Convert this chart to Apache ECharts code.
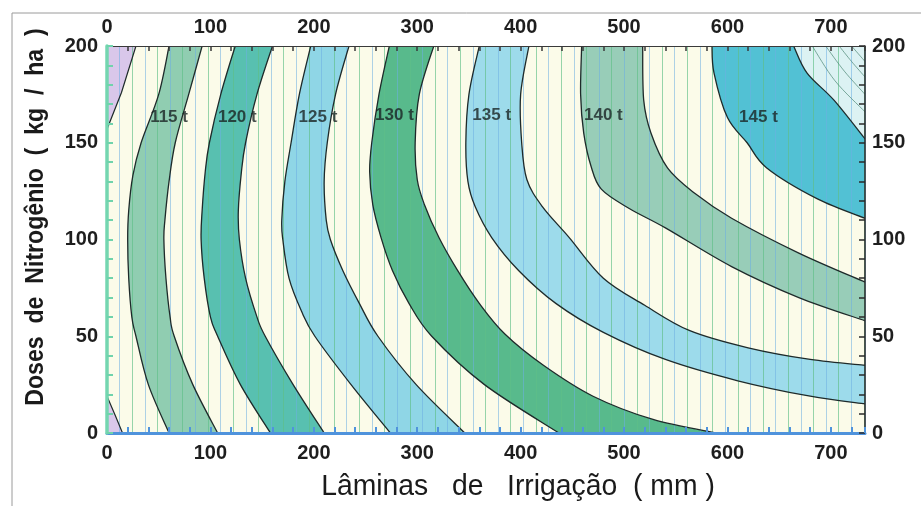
<!DOCTYPE html>
<html>
<head>
<meta charset="utf-8">
<script src="https://cdn.jsdelivr.net/npm/echarts@6/dist/echarts.min.js"></script>
<style>
  html, body { margin: 0; padding: 0; background: #fff; }
  #chart { width: 921px; height: 506px; }
</style>
</head>
<body>
<div id="chart"></div>
<script>
// plot extent
const xMax = 733;
const yMax = 200;
const xTickStep = 100;
const yTickStep = 50;
const hatchStep = 12.2;

// contour boundaries: [lamina mm, dose kg/ha]
const c110 = [[28, 200], [14, 176], [0, 157], [0, 19], [8, 9], [15, 0]];
const c115a = [[60, 200], [50, 175], [33, 150], [25, 133], [21, 115], [20, 100], [21, 80], [24, 60], [28, 50], [40, 25], [60, 0]];
const c115b = [[92, 200], [79, 175], [66, 150], [60, 130], [56, 110], [55, 100], [57, 80], [61, 60], [65, 50], [83, 25], [107, 0]];
const c120a = [[124, 200], [110, 175], [99, 150], [95, 135], [92, 115], [91, 100], [94, 80], [100, 60], [107, 50], [129, 25], [158, 0]];
const c120b = [[160, 200], [145, 175], [134, 150], [130, 135], [127, 115], [128, 100], [134, 80], [145, 60], [153, 50], [180, 25], [210, 0]];
const c125a = [[197, 200], [186, 175], [178, 150], [172, 130], [169, 110], [170, 100], [176, 80], [188, 63], [201, 50], [236, 25], [274, 0]];
const c125b = [[234, 200], [221, 175], [213, 150], [210, 130], [212, 110], [216, 100], [228, 84], [244, 67], [262, 50], [299, 25], [346, 0]];
const c130a = [[273, 200], [263, 175], [256, 150], [254, 135], [257, 118], [265, 101], [276, 84], [292, 67], [314, 50], [365, 25], [437, 0]];
const c130b = [[316, 200], [302, 175], [298, 150], [300, 131], [307, 118], [321, 101], [339, 84], [360, 67], [385, 51], [422, 35], [470, 19], [528, 7], [589, 0]];
const c135a = [[360, 200], [350, 175], [347, 150], [349, 130], [356, 117], [372, 101], [398, 84], [434, 67], [480, 52], [540, 38], [610, 27], [680, 19], [733, 15]];
const c135b = [[408, 200], [400, 175], [401, 150], [406, 131], [421, 117], [447, 101], [480, 80], [520, 66], [563, 53], [620, 44], [680, 38], [733, 35]];
const c140a = [[459, 200], [458, 175], [461, 155], [468, 138], [478, 126], [505, 116], [540, 106], [604, 86], [669, 70], [733, 58]];
const c140b = [[518, 200], [519, 172], [526, 155], [542, 137], [568, 124], [604, 111], [669, 93], [733, 78]];
const c145a = [[585, 200], [587, 186], [600, 163], [619, 150], [638, 137], [687, 121], [733, 111]];
const c145b = [[664, 200], [677, 186], [703, 172], [733, 152]];

// thin inner contours, top right corner
const inner1 = [[682, 200], [704, 182], [733, 166]];
const inner2 = [[695, 200], [713, 187], [733, 175]];
const inner3 = [[708, 200], [720, 192], [733, 184]];
const inner4 = [[720, 200], [733, 192]];

const bounds = [c110, c115a, c115b, c120a, c120b, c125a, c125b, c130a, c130b, c135a, c135b, c140a, c140b, c145a, c145b];
const bandColors = ['#fbfbe9', '#90cdb1', '#fbfbe9', '#58c0b0', '#fbfbe9', '#8fd6e6', '#fbfbe9', '#58ba8c',
  '#fbfbe9', '#9ddbeb', '#fbfbe9', '#98cdb8', '#fbfbe9', '#52c1d4', '#dcf2f3'];

// contour labels
const labelNames = ['115 t', '120 t', '125 t', '130 t', '135 t', '140 t', '145 t'];
const labelX = [60, 126, 204, 278, 372, 480, 630];
const labelY = [163, 163, 163, 164, 164, 164, 163];

// catmull-rom through pixel points -> svg path (straight = plain polyline)
function smoothPath(pts, straight) {
  let d = 'M' + pts[0][0] + ' ' + pts[0][1];
  for (let i = 0; i < pts.length - 1; i++) {
    const p1 = pts[i];
    const p2 = pts[i + 1];
    if (straight) {
      d += ' L' + p2[0] + ' ' + p2[1];
      continue;
    }
    const p0 = pts[Math.max(i - 1, 0)];
    const p3 = pts[Math.min(i + 2, pts.length - 1)];
    const c1x = p1[0] + (p2[0] - p0[0]) / 6;
    const c1y = p1[1] + (p2[1] - p0[1]) / 6;
    const c2x = p2[0] - (p3[0] - p1[0]) / 6;
    const c2y = p2[1] - (p3[1] - p1[1]) / 6;
    d += ' C' + c1x + ' ' + c1y + ' ' + c2x + ' ' + c2y + ' ' + p2[0] + ' ' + p2[1];
  }
  return d;
}

function fillSeries(path, color, idx) {
  return {
    type: 'custom',
    clip: true,
    silent: true,
    z: 1,
    data: [path[0]],
    renderItem: function (params, api) {
      const px = path.map(p => api.coord(p));
      const c1 = api.coord([xMax, 0]);
      const c2 = api.coord([xMax, yMax]);
      const d = smoothPath(px, idx === 0) + ' L' + c1[0] + ' ' + c1[1] + ' L' + c2[0] + ' ' + c2[1] + ' Z';
      return { type: 'path', z2: idx, shape: { pathData: d }, style: { fill: color, stroke: null } };
    }
  };
}

function lineSeries(path, color, width, straight) {
  return {
    type: 'custom',
    clip: true,
    silent: true,
    z: 3,
    data: [path[0]],
    renderItem: function (params, api) {
      const px = path.map(p => api.coord(p));
      return { type: 'path', shape: { pathData: smoothPath(px, straight) }, style: { fill: null, stroke: color, lineWidth: width } };
    }
  };
}

const series = [];
bounds.forEach((b, i) => series.push(fillSeries(b, bandColors[i], i)));
series.push(lineSeries(c110.slice(0, 3), '#1e2a2a', 1.2, true));
series.push(lineSeries(c110.slice(3), '#1e2a2a', 1.2, true));
bounds.slice(1).forEach(b => series.push(lineSeries(b, '#1e2a2a', 1.3, false)));
[inner1, inner2, inner3, inner4].forEach(b => series.push(lineSeries(b, 'rgba(70,130,110,0.75)', 0.9, false)));
series.push({
  type: 'scatter',
  z: 4,
  silent: true,
  symbolSize: 0,
  data: labelNames.map((n, i) => ({ name: n, value: [labelX[i], labelY[i]] })),
  label: {
    show: true,
    position: 'inside',
    formatter: '{b}',
    color: '#1a2424',
    fontSize: 17,
    fontWeight: 'bold',
    fontFamily: 'Liberation Sans, Arial, sans-serif'
  }
});

const tickLabel = { color: '#1e1e1e', fontSize: 20, fontWeight: 'bold', fontFamily: 'Liberation Sans, Arial, sans-serif' };

// ticks pointing into the plot, minor ticks between labels
function ticks(color, width, len, minorSplit) {
  return {
    axisTick: { show: true, inside: true, length: len, lineStyle: { color: color, width: width } },
    minorTick: { show: true, splitNumber: minorSplit, length: len, lineStyle: { color: color, width: width } }
  };
}

const chart = echarts.init(document.getElementById('chart'), null, { renderer: 'canvas' });
chart.setOption({
  animation: false,
  backgroundColor: '#ffffff',
  grid: { left: 107, right: 56, top: 46, bottom: 73, show: true, backgroundColor: '#d9c7ea', borderWidth: 0 },
  xAxis: [
    Object.assign({
      type: 'value', position: 'bottom', min: 0, max: xMax, interval: xTickStep, z: 5,
      axisLine: { onZero: false, lineStyle: { color: '#4f93dc', width: 3 } },
      axisLabel: Object.assign({ margin: 10, showMaxLabel: false }, tickLabel),
      splitLine: { show: false }
    }, ticks('#4f93dc', 2, 6, 5)),
    Object.assign({
      type: 'value', position: 'top', min: 0, max: xMax, interval: xTickStep, z: 5,
      axisLine: { onZero: false, lineStyle: { color: '#3a3a3a', width: 1 } },
      axisLabel: Object.assign({ margin: 9, showMaxLabel: false }, tickLabel),
      splitLine: { show: false }
    }, ticks('#3a3a3a', 1.5, 5, 5)),
    {
      type: 'value', position: 'bottom', min: 0, max: xMax, interval: hatchStep, z: 2,
      axisLine: { show: false, onZero: false }, axisTick: { show: false }, axisLabel: { show: false },
      splitLine: { show: true, lineStyle: { color: ['rgba(95,190,135,0.65)', 'rgba(110,175,225,0.55)'], width: 1 } }
    }
  ],
  yAxis: [
    Object.assign({
      type: 'value', position: 'left', min: 0, max: yMax, interval: yTickStep, z: 6,
      axisLine: { show: true, onZero: false, lineStyle: { color: '#74d6b0', width: 3.5 } },
      axisLabel: Object.assign({ margin: 9 }, tickLabel),
      splitLine: { show: false }
    }, ticks('#6fd3ab', 2, 6, 5)),
    Object.assign({
      type: 'value', position: 'right', min: 0, max: yMax, interval: yTickStep, z: 5,
      axisLine: { show: true, onZero: false, lineStyle: { color: '#2a2a2a', width: 1.5 } },
      axisLabel: Object.assign({ margin: 7 }, tickLabel),
      splitLine: { show: false }
    }, ticks('#2a2a2a', 1.5, 6, 5))
  ],
  graphic: [
    { type: 'line', silent: true, shape: { x1: 12, y1: 13, x2: 921, y2: 13 }, style: { stroke: '#9a9a9a', lineWidth: 1 } },
    { type: 'line', silent: true, shape: { x1: 12, y1: 13, x2: 12, y2: 506 }, style: { stroke: '#9a9a9a', lineWidth: 1 } },
    {
      type: 'text', silent: true, x: 36, y: 217, rotation: Math.PI / 2, scaleX: 1.1, scaleY: 1.2,
      style: {
        text: 'Doses  de  Nitrogênio  (  kg  /  ha  )', align: 'center', verticalAlign: 'middle',
        font: 'bold 21px "Liberation Sans", Arial, sans-serif', fill: '#1a1a1a'
      }
    },
    {
      type: 'text', silent: true, x: 518, y: 487, scaleX: 1.09, scaleY: 1.12,
      style: {
        text: 'Lâminas   de   Irrigação  ( mm )', align: 'center', verticalAlign: 'middle',
        font: '26px "Liberation Sans", Arial, sans-serif', fill: '#1a1a1a'
      }
    }
  ],
  series: series
});
</script>
</body>
</html>
